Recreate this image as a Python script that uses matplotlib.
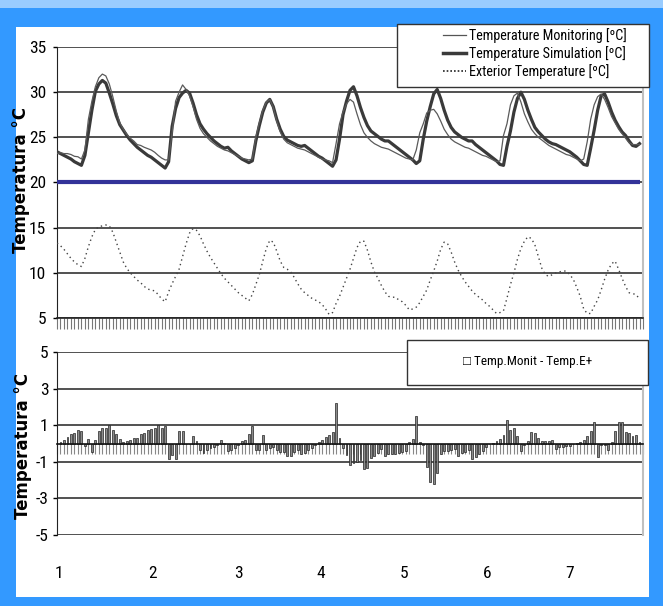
import matplotlib
matplotlib.use("Agg")
import matplotlib.pyplot as plt
from matplotlib.patches import Rectangle
from matplotlib.lines import Line2D
from matplotlib.ticker import MultipleLocator, NullFormatter
import matplotlib.transforms as mtransforms
import numpy as np

NARROW = ['Roboto Condensed', 'Liberation Sans Narrow', 'Liberation Sans', 'DejaVu Sans']
plt.rcParams['font.family'] = NARROW
plt.rcParams['axes.unicode_minus'] = False

# ---------------- data (hourly, h = 0..167) ----------------
sim_temp = [
    23.4, 23.2, 23.0, 22.8, 22.6, 22.3, 22.1, 21.9, 23.0, 25.5, 28.0, 30.1, 30.9, 31.3, 31.0, 29.9,
    28.7, 27.4, 26.4, 25.8, 25.2, 24.7, 24.3, 23.9, 23.6, 23.3, 23.0, 22.8, 22.5, 22.2, 21.9, 21.6,
    22.3, 26.2, 28.2, 29.4, 29.9, 30.2, 29.9, 28.8, 27.5, 26.5, 25.9, 25.4, 25.0, 24.6, 24.3, 24.0,
    23.8, 23.9, 23.5, 23.2, 22.9, 22.6, 22.4, 22.2, 22.4, 24.6, 26.3, 27.8, 28.8, 29.2, 28.4, 27.0,
    25.9, 25.1, 24.7, 24.5, 24.3, 24.1, 24.0, 24.1, 23.8, 23.5, 23.2, 22.9, 22.7, 22.4, 22.1, 21.8,
    22.5, 24.8, 27.5, 29.0, 30.2, 30.6, 29.6, 28.3, 27.2, 26.3, 25.7, 25.4, 25.1, 24.8, 24.6, 24.6,
    24.3, 24.0, 23.7, 23.4, 23.1, 22.8, 22.5, 22.1, 22.4, 24.8, 26.8, 28.4, 29.8, 30.3, 29.3, 28.0,
    26.9, 26.1, 25.6, 25.3, 25.0, 24.8, 24.6, 24.6, 24.2, 23.9, 23.6, 23.3, 23.0, 22.7, 22.4, 22.0,
    21.9, 24.0, 25.7, 27.8, 29.3, 30.0, 29.2, 28.0, 27.0, 26.1, 25.6, 25.2, 24.8, 24.5, 24.3, 24.2,
    24.0, 23.8, 23.6, 23.4, 23.1, 22.8, 22.4, 22.0, 21.9, 23.8, 25.8, 28.0, 29.6, 29.8, 28.9, 27.8,
    26.9, 26.2, 25.6, 25.2, 24.6, 24.1, 24.0, 24.3,
]

mon_temp = [
    23.2, 23.3, 23.2, 23.2, 23.1, 22.9, 22.85, 22.6, 23.6, 27.0, 29.0, 30.6, 31.6, 32.0, 31.8, 30.9,
    29.5, 27.9, 26.6, 25.9, 25.35, 24.9, 24.6, 24.2, 24.1, 23.9, 23.75, 23.6, 23.35, 23.0, 22.7, 22.5,
    22.5, 25.5, 29.0, 30.0, 30.8, 30.3, 29.6, 28.4, 27.0, 26.0, 25.4, 25.0, 24.6, 24.3, 24.0, 23.8,
    23.6, 23.5, 23.3, 23.1, 22.9, 22.7, 22.6, 22.5, 22.6, 25.0, 26.6, 28.0, 28.9, 29.2, 28.3, 26.8,
    25.6, 24.8, 24.4, 24.2, 24.0, 23.8, 23.7, 23.6, 23.4, 23.2, 23.0, 22.8, 22.6, 22.5, 22.4, 22.2,
    24.3, 26.5, 27.8, 28.7, 29.2, 28.9, 27.6, 26.4, 25.5, 25.0, 24.6, 24.3, 24.1, 23.9, 23.8, 23.7,
    23.5, 23.3, 23.1, 22.9, 22.7, 22.6, 22.5, 23.6, 25.5, 26.5, 27.7, 28.0, 28.1, 27.6, 26.8, 25.9,
    25.3, 24.8, 24.5, 24.3, 24.1, 23.9, 23.8, 23.6, 23.4, 23.2, 23.0, 22.9, 22.7, 22.5, 22.3, 22.4,
    25.2, 26.5, 28.6, 29.6, 29.9, 28.9, 27.6, 26.7, 25.9, 25.4, 25.0, 24.7, 24.4, 24.1, 23.9, 23.7,
    23.5, 23.3, 23.1, 23.0, 22.8, 22.6, 22.4, 22.6, 24.5, 27.0, 28.6, 29.5, 29.8, 29.2, 28.3, 27.3,
    26.6, 25.9, 25.4, 24.9, 24.4, 24.2, 24.2, 24.2,
]

ext_temp = [
    13.3, 13.0, 12.6, 12.1, 11.6, 11.2, 10.9, 10.7, 11.6, 12.9, 14.0, 14.8, 15.1, 15.2, 15.3, 15.2,
    14.5, 13.4, 12.3, 11.2, 10.5, 10.0, 9.6, 9.2, 8.9, 8.5, 8.2, 8.1, 8.0, 7.6, 7.1, 6.8,
    7.9, 8.8, 9.6, 10.4, 11.8, 13.2, 14.4, 14.9, 14.7, 14.1, 13.2, 12.4, 11.7, 11.1, 10.5, 9.9,
    9.4, 9.0, 8.6, 8.2, 7.8, 7.5, 7.2, 6.9, 7.6, 8.7, 9.8, 11.3, 12.7, 13.6, 13.4, 12.4,
    11.3, 10.6, 10.4, 10.1, 9.5, 8.8, 8.2, 7.8, 7.5, 7.2, 7.0, 6.8, 6.5, 6.0, 5.4, 5.6,
    6.6, 7.4, 8.4, 9.4, 10.4, 11.6, 12.8, 13.5, 13.5, 12.5, 11.2, 10.1, 9.4, 8.6, 7.9, 7.4,
    7.3, 7.3, 7.0, 6.8, 6.4, 5.9, 6.0, 6.2, 6.7, 7.4, 8.1, 9.2, 10.2, 11.3, 12.6, 13.4,
    13.2, 12.3, 11.2, 10.3, 9.6, 9.0, 8.5, 8.0, 7.6, 7.3, 7.0, 6.6, 6.3, 5.9, 5.5, 5.6,
    5.8, 7.2, 8.7, 10.0, 11.5, 12.7, 13.5, 14.0, 13.8, 13.1, 11.8, 10.5, 9.8, 9.6, 9.8, 10.0,
    10.1, 10.2, 10.2, 9.8, 9.3, 8.4, 7.4, 6.0, 5.5, 5.5, 6.3, 7.0, 8.1, 9.3, 10.3, 11.0,
    11.3, 10.4, 9.4, 8.5, 7.8, 7.7, 7.6, 7.1,
]

setpoint = 20.1

# difference Temp.Monit - Temp.E+ (hours 1..167)
diff_temp = [
    0.09, 0.18, 0.36, 0.5, 0.6, 0.75, 0.7, -0.15, 0.24, -0.45, 0.18, 0.7, 0.85, 0.85, 1.0, 0.76,
    0.5, 0.22, 0.1, 0.15, 0.18, 0.3, 0.3, 0.5, 0.6, 0.75, 0.8, 0.85, 1.0, 0.87, 0.95, -0.87,
    -0.64, -0.82, 0.7, 0.7, -0.04, -0.04, 0.4, 0.15, -0.33, -0.5, -0.36, -0.27, -0.18, -0.1, 0.18, 0.05,
    -0.4, -0.33, -0.22, -0.09, 0.13, 0.18, 0.5, 0.95, -0.36, -0.33, 0.45, -0.36, -0.27, -0.18, -0.33, -0.45,
    -0.45, -0.7, -0.7, -0.45, -0.33, -0.58, -0.5, -0.36, -0.27, -0.09, 0.09, 0.18, 0.33, 0.45, 0.64, 2.2,
    0.3, -0.27, -0.64, -1.2, -1.05, -1.0, -0.9, -1.4, -1.35, -0.8, -0.7, -0.5, -0.3, -0.7, -0.6, -0.6,
    -0.55, -0.5, -0.45, -0.4, 0.1, 0.25, 1.5, 0.1, -0.1, -1.3, -2.1, -2.2, -1.6, -0.6, -0.4, -0.4,
    -0.35, -0.3, -0.7, -0.5, -0.45, -0.35, -0.85, -0.75, -0.6, -0.4, -0.2, -0.05, 0.05, 0.15, 0.25, 0.45,
    1.3, 0.75, 0.85, 0.4, -0.4, -0.1, 0.15, 0.65, 0.55, 0.3, 0.15, 0.15, 0.15, 0.2, -0.3, -0.2,
    -0.2, -0.15, -0.15, -0.05, 0.05, 0.1, 0.2, 0.4, 0.7, 1.2, -0.75, -0.1, -0.1, -0.35, 0.1, 0.7,
    1.2, 1.15, 0.65, 0.55, 0.4, 0.45, 0.1,
]

day_labels = ['1', '2', '3', '4', '5', '6', '7']
day_label_hours = [0.6, 27.5, 51.9, 75.6, 99.4, 123.2, 147.0]

legend_labels = ['Temperature Monitoring [ºC]', 'Temperature Simulation [ºC]', 'Exterior Temperature [ºC]']
diff_label = '\u25a1 Temp.Monit - Temp.E+'
ylabel_text = 'Temperatura °C'

hours = np.arange(len(sim_temp))
bar_hours = np.arange(1, len(diff_temp) + 1)

# ---------------- figure ----------------
W, H = 663, 606
fig = plt.figure(figsize=(W / 100, H / 100), dpi=100, facecolor='#3399ff')

def fx(px):
    return px / W

def fy(py):
    return 1 - py / H

fig.patches.append(Rectangle((0, fy(8)), 1, 8 / H, transform=fig.transFigure,
                             facecolor='#99ccff', edgecolor='none', zorder=-2))
fig.patches.append(Rectangle((fx(16), fy(597)), fx(649 - 16), (597 - 27) / H,
                             transform=fig.transFigure, facecolor='white',
                             edgecolor='none', zorder=-1))

grid_color = '#333333'
tick_fs = 12.5

# ---------- top axes ----------
ax1 = fig.add_axes([fx(57), fy(318), fx(586), 271 / H])
ax1.set_facecolor('none')
ax1.plot(hours[[0, -1]], [setpoint, setpoint], color='#333399', lw=3.0, zorder=3,
         solid_capstyle='butt')
ax1.plot(hours, ext_temp, color='#444444', lw=1.0, ls=(0, (1, 2.4)), zorder=4)
ax1.plot(hours, sim_temp, color='#3a3a3a', lw=2.3, zorder=4)
ax1.plot(hours, mon_temp, color='#5a5a5a', lw=0.9, zorder=5)
ax1.set_xlim(0, 168)
ax1.set_ylim(5, 35)
ax1.set_yticks(np.arange(5, 36, 5))
ax1.yaxis.grid(True, color=grid_color, lw=1.2)
ax1.set_axisbelow(True)
ax1.set_xticks([])
ax1.xaxis.set_minor_locator(MultipleLocator(1))
ax1.xaxis.set_minor_formatter(NullFormatter())
ax1.tick_params(axis='x', which='minor', length=8, width=0.8, color='#777777', direction='out')
ax1.tick_params(axis='y', length=3, width=1, pad=5, labelsize=tick_fs)
ax1.spines['top'].set_visible(False)
ax1.spines['right'].set_color('#c0c0c0')
ax1.spines['right'].set_linewidth(1.5)
ax1.spines['left'].set_color('#222222')
ax1.spines['bottom'].set_color('#222222')
ax1.spines['bottom'].set_linewidth(1.2)

# ---------- bottom axes ----------
ax2 = fig.add_axes([fx(57), fy(535), fx(586), 183 / H])
ax2.set_facecolor('none')
ax2.bar(bar_hours, diff_temp, width=0.55, color='#8c8c8c', edgecolor='#222222',
        linewidth=0.5, zorder=2)
ax2.set_xlim(0, 168)
ax2.set_ylim(-5, 5)
ax2.set_yticks([-5, -3, -1, 1, 3, 5])
ax2.yaxis.grid(True, color=grid_color, lw=1.2)
ax2.set_axisbelow(True)
ax2.spines['bottom'].set_position(('data', 0))
ax2.spines['bottom'].set_color('#111111')
ax2.spines['bottom'].set_linewidth(1.2)
ax2.spines['top'].set_visible(False)
ax2.spines['right'].set_color('#c0c0c0')
ax2.spines['right'].set_linewidth(1.5)
ax2.spines['left'].set_color('#222222')
ax2.set_xticks([])
ax2.xaxis.set_minor_locator(MultipleLocator(1))
ax2.xaxis.set_minor_formatter(NullFormatter())
ax2.tick_params(axis='x', which='minor', length=7, width=0.8, color='#888888', direction='out')
ax2.tick_params(axis='y', length=3, width=1, pad=3, labelsize=tick_fs)

trans = mtransforms.blended_transform_factory(ax2.transData, fig.transFigure)
for lab, xh in zip(day_labels, day_label_hours):
    ax2.text(xh, fy(573), lab, transform=trans, ha='center', va='center',
             fontsize=tick_fs, clip_on=False)

# ---------- y labels ----------
fig.text(fx(21), fy(180), ylabel_text, rotation=90, ha='center', va='center',
         fontsize=12, fontweight='bold', family=['DejaVu Sans'])
fig.text(fx(23), fy(446), ylabel_text, rotation=90, ha='center', va='center',
         fontsize=12, fontweight='bold', family=['DejaVu Sans'])

# ---------- legend top ----------
fig.patches.append(Rectangle((fx(397), fy(87)), fx(649 - 397), (87 - 24) / H,
                             transform=fig.transFigure, facecolor='white',
                             edgecolor='#333333', lw=1.0, zorder=3))
handles = [Line2D([], [], color='#555555', lw=0.9),
           Line2D([], [], color='#3a3a3a', lw=2.5),
           Line2D([], [], color='#222222', lw=1.2, ls=(0, (1, 1.2)))]
leg = fig.legend(handles, legend_labels, loc='upper left',
                 bbox_to_anchor=(fx(443), fy(28)), frameon=False, fontsize=10.2,
                 handlelength=1.65, handletextpad=0.2, labelspacing=0.22,
                 borderaxespad=0, borderpad=0)
leg.set_zorder(6)

# ---------- legend bottom ----------
fig.patches.append(Rectangle((fx(407), fy(385)), fx(648 - 407), (385 - 340) / H,
                             transform=fig.transFigure, facecolor='white',
                             edgecolor='#333333', lw=1.0, zorder=3))
fig.text(fx(528), fy(362), diff_label, ha='center', va='center', fontsize=9.5, zorder=6)

fig.savefig('out.png', dpi=100, facecolor=fig.get_facecolor())
